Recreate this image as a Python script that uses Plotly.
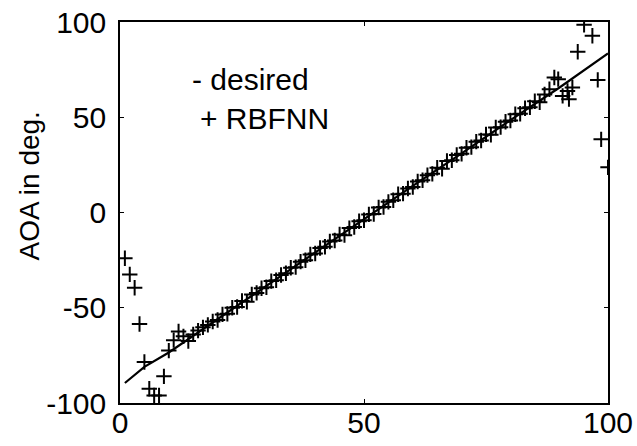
import plotly.graph_objects as go

# desired AOA (line vertices)
desired_x = [1, 5, 10, 20, 30, 40, 50, 60, 70, 80, 90, 95, 100]
desired_y = [-89.5, -81, -73.5, -56, -38.5, -21, -3.5, 14, 31, 48.5, 65.5, 74.5, 83.5]

# RBFNN estimates
rbf_x = list(range(1, 90)) + [89.8, 90.7, 91.7, 92.0, 92.7, 93.8, 95.1, 96.8, 97.9, 98.6, 100]
rbf_y = [
    -24.0, -32.5, -39.5, -58.5, -78.5, -92.5, -96.0, -96.0, -86.0, -72.5,
    -67.0, -62.5, -65.0, -67.5, -64.0, -62.0, -60.3, -59.0, -57.2, -56.4,
    -53.5, -53.2, -50.0, -49.6, -46.4, -46.9, -43.0, -42.2, -39.8, -39.2,
    -36.0, -35.6, -32.8, -31.9, -29.0, -28.7, -25.8, -25.1, -22.0, -21.5,
    -18.6, -18.0, -15.2, -14.7, -11.5, -11.9, -8.2, -7.6, -4.6, -4.1,
    -1.0, -0.8, 2.6, 2.9, 5.6, 6.4, 9.6, 9.9, 12.6, 13.4,
    16.3, 16.9, 19.6, 20.3, 23.5, 23.0, 27.0, 27.4, 30.2, 30.8,
    34.0, 34.3, 37.2, 37.8, 41.0, 40.8, 44.6, 44.8, 47.6, 48.3,
    51.6, 51.8, 54.7, 55.2, 58.4, 57.9, 62.0, 64.7, 70.9,
    70.0, 61.2, 63.8, 59.5, 65.6, 84.4, 98.5, 92.8, 69.6, 38.4, 23.7,
]

x_ticks = [0, 50, 100]
y_ticks = [-100, -50, 0, 50, 100]

font = "Liberation Sans, Arial, sans-serif"

fig = go.Figure()
fig.add_trace(go.Scatter(
    x=desired_x, y=desired_y, mode="lines",
    line=dict(color="black", width=2.2), name="desired",
))
fig.add_trace(go.Scatter(
    x=rbf_x, y=rbf_y, mode="markers",
    marker=dict(symbol="cross-thin", size=11, line=dict(color="black", width=2)),
    name="RBFNN",
))

axis_common = dict(
    showline=True, linecolor="black", linewidth=1.6, mirror="ticks",
    ticks="inside", ticklen=4, tickwidth=1.2, tickcolor="black",
    showgrid=False, zeroline=False, automargin=False,
    tickfont=dict(family=font, size=30, color="black"),
)

fig.update_xaxes(range=[0, 100], tickvals=x_ticks, ticktext=[str(v) for v in x_ticks],
                 ticklabelstandoff=-8, **axis_common)
fig.update_yaxes(range=[-100, 100], tickvals=y_ticks, ticktext=[str(v) for v in y_ticks],
                 ticklabelstandoff=6, **axis_common)

fig.add_annotation(text="AOA in deg.", xref="paper", yref="paper", x=-0.185, y=0.57,
                   textangle=-90, showarrow=False, xanchor="center", yanchor="middle",
                   font=dict(family=font, size=28, color="black"))
fig.add_annotation(text="- desired", xref="paper", yref="paper", x=0.143, y=0.848,
                   showarrow=False, xanchor="left", yanchor="middle",
                   font=dict(family=font, size=30, color="black"))
fig.add_annotation(text="+ RBFNN", xref="paper", yref="paper", x=0.160, y=0.748,
                   showarrow=False, xanchor="left", yanchor="middle",
                   font=dict(family=font, size=30, color="black"))

fig.update_layout(
    width=637, height=446,
    margin=dict(l=120, r=29, t=22, b=43),
    paper_bgcolor="white", plot_bgcolor="white",
    showlegend=False,
)

fig.write_html("out.html")
